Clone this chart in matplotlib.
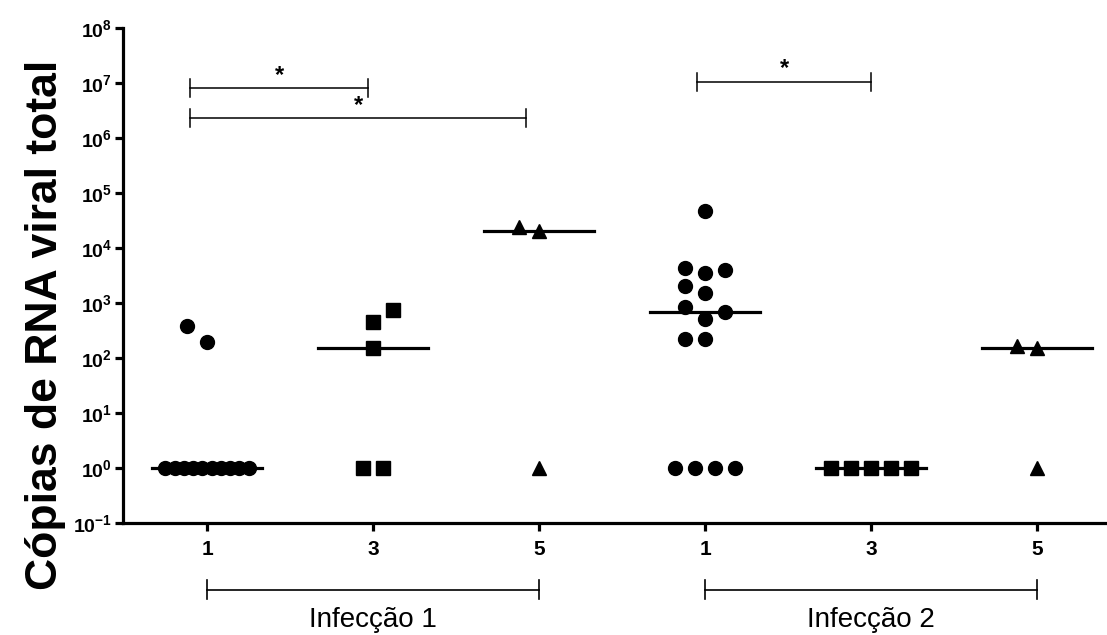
import matplotlib
import matplotlib.pyplot as plt
import numpy as np
from matplotlib.transforms import blended_transform_factory

matplotlib.use("Agg")

plt.rcParams["font.family"] = ["Liberation Sans", "DejaVu Sans"]
plt.rcParams["mathtext.fontset"] = "custom"
plt.rcParams["mathtext.rm"] = "Liberation Sans"
plt.rcParams["mathtext.bf"] = "Liberation Sans:bold"

# data (copies of viral RNA, 1 = below detection)
day_labels = ["1", "3", "5", "1", "3", "5"]
infections = ["Infecção 1", "Infecção 2"]
inf1_day1 = [195, 380] + [1] * 10
inf1_day3 = [150, 450, 750, 1, 1]
inf1_day5 = [20400, 24000, 1]
inf2_day1 = [47000, 3500, 4300, 4000, 1520, 2050, 510, 850, 690, 225, 225, 1, 1, 1, 1]
inf2_day3 = [1, 1, 1, 1, 1]
inf2_day5 = [150, 165, 1]
groups = [inf1_day1, inf1_day3, inf1_day5, inf2_day1, inf2_day3, inf2_day5]

# significance brackets: x start, x end, height
sig_brackets = [(-0.1, 0.97, 8.1e6), (-0.1, 1.92, 2.3e6), (2.95, 4.0, 1.05e7)]

markers = ["o", "s", "^", "o", "s", "^"]
first_side = [-1, 1, -1, -1, -1, -1]
STEP = 0.12        # horizontal spacing of points (x units)
FLOOR_SPAN = 0.5   # max width of the row of points at the floor
MIN_DIST = 17      # px, points closer than this get pushed aside


def swarm_offsets(vals, x0, side, ax):
    vals = np.asarray(vals, float)
    offs = np.zeros(len(vals))
    floor = vals <= 1
    n = int(floor.sum())
    if n > 1:
        step = min(STEP, FLOOR_SPAN / (n - 1))
        offs[floor] = (np.arange(n) - (n - 1) / 2) * step
    placed = []
    cands = [0]
    for k in range(1, 6):
        cands += [k * side, -k * side]
    for i in np.where(~floor)[0]:
        for k in cands:
            off = k * STEP
            p = ax.transData.transform((x0 + off, vals[i]))
            if all(np.hypot(*(p - q)) >= MIN_DIST for q in placed):
                break
        offs[i] = off
        placed.append(p)
    return offs


fig = plt.figure(figsize=(11.07, 6.35), dpi=100)
ax = fig.add_axes([0.1111, 0.1764, 0.8889, 0.7795])
ax.set_yscale("log")
ax.set_ylim(1e-1, 1e8)
ax.set_xlim(-0.506, 5.42)

for i, vals in enumerate(groups):
    offs = swarm_offsets(vals, i, first_side[i], ax)
    ax.plot(i + offs, vals, linestyle="none", marker=markers[i], ms=10,
            color="black", clip_on=False, zorder=3)
    med = np.median(vals)
    ax.plot([i - 0.33, i + 0.33], [med, med], color="black", lw=2.3, zorder=2)

# significance brackets
for x1, x2, y in sig_brackets:
    ax.plot([x1, x2], [y, y], color="black", lw=1.1)
    for xx in (x1, x2):
        ax.plot([xx, xx], [y / 10**0.165, y * 10**0.165], color="black", lw=1.1)
    ax.annotate("*", ((x1 + x2) / 2, y), xytext=(0, 1), textcoords="offset points",
                ha="center", va="bottom", fontsize=17, fontweight="bold")

# axes styling
for side in ("top", "right"):
    ax.spines[side].set_visible(False)
for side in ("left", "bottom"):
    ax.spines[side].set_linewidth(2.3)

ax.set_yticks([10.0**k for k in range(-1, 9)])
ax.set_yticklabels([r"$\mathbf{10^{%d}}$" % k for k in range(-1, 9)], fontsize=14)
ax.minorticks_off()
ax.set_xticks(range(len(day_labels)))
ax.set_xticklabels(day_labels, fontsize=15, fontweight="bold")
ax.tick_params(axis="both", width=2.3, length=6, color="black")
ax.tick_params(axis="x", pad=6)
ax.tick_params(axis="y", pad=2)

fig.text(0.041, 0.488, "Cópias de RNA viral total", rotation=90, ha="center",
         va="center", fontsize=32, fontweight="bold")

# infection group brackets under the axis
trans = blended_transform_factory(ax.transData, ax.transAxes)
for k, name in enumerate(infections):
    x1, x2 = 3 * k, 3 * k + 2
    yb = -0.135
    ax.plot([x1, x2], [yb, yb], color="black", lw=1.2, transform=trans, clip_on=False)
    for xx in (x1, x2):
        ax.plot([xx, xx], [yb - 0.019, yb + 0.019], color="black", lw=1.2,
                transform=trans, clip_on=False)
    ax.text((x1 + x2) / 2, -0.196, name, transform=trans, ha="center", va="center",
            fontsize=20)

fig.savefig("out.png", dpi=100)
